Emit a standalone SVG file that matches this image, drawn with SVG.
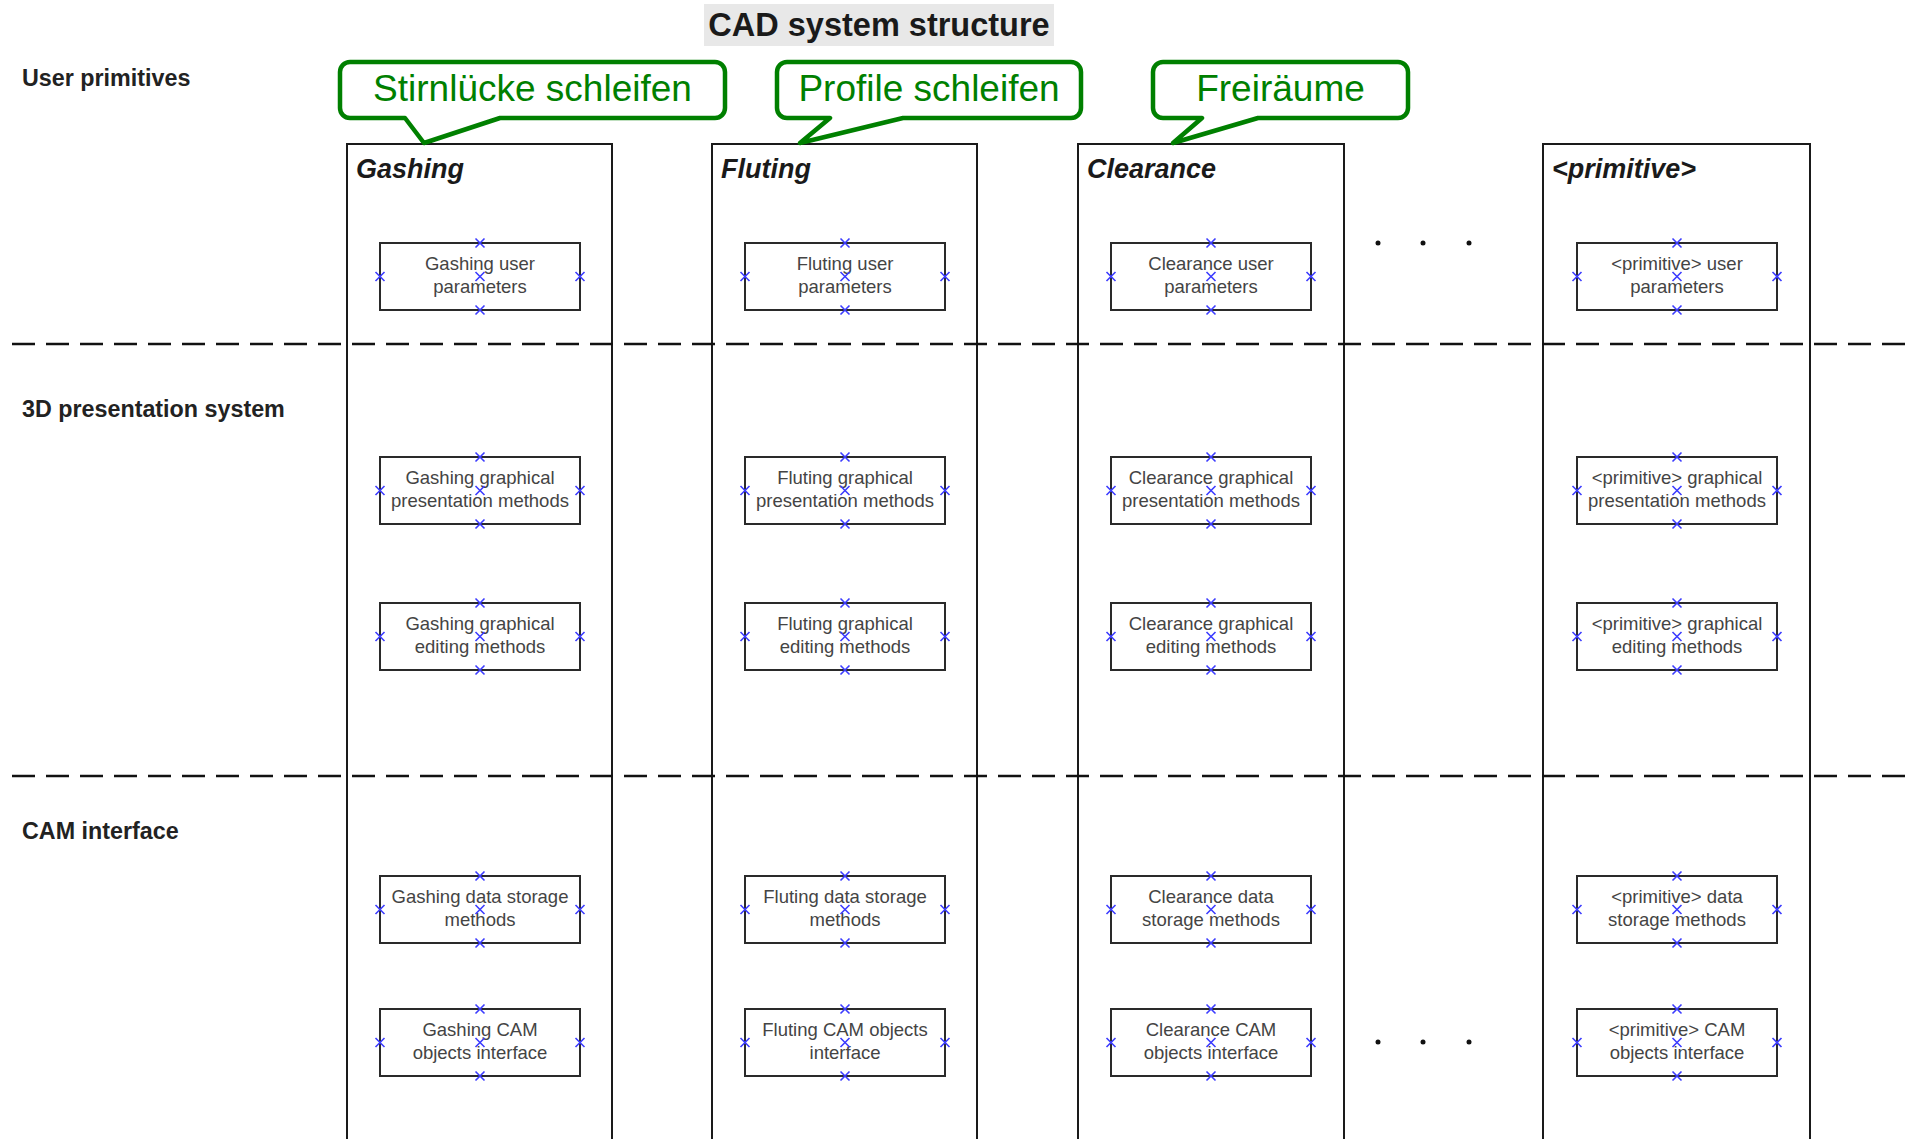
<svg xmlns="http://www.w3.org/2000/svg" xmlns:xlink="http://www.w3.org/1999/xlink" width="1916" height="1139" viewBox="0 0 1916 1139">
  <style>
    .title { font-family: "Liberation Sans", Arial, sans-serif; font-weight: bold; font-size: 32.5px; fill: #1a1a1a; }
    .layer { font-family: "Liberation Sans", Arial, sans-serif; font-weight: bold; font-size: 23.3px; fill: #222; }
    .lane-frame { fill: none; stroke: #1a1a1a; stroke-width: 2; }
    .lane-name { font-family: "Liberation Sans", Arial, sans-serif; font-weight: bold; font-style: italic; font-size: 27px; fill: #1a1a1a; }
    .sep { stroke: #111; stroke-width: 2.5; stroke-dasharray: 23 11; fill: none; }
    .box { fill: #fff; stroke: #2a2a2a; stroke-width: 2; }
    .lbl { font-family: "Liberation Sans", Arial, sans-serif; font-size: 18.5px; fill: #444; text-anchor: middle; }
    .pin { stroke: #3c3cff; stroke-width: 1.6; fill: none; }
    .callout { fill: #fff; stroke: #008000; stroke-width: 4.5; stroke-linejoin: round; }
    .callout-text { font-family: "Liberation Sans", Arial, sans-serif; font-size: 37px; fill: #008000; text-anchor: middle; }
    .dot { fill: #111; }
  </style>
  <defs>
    <path id="pin" class="pin" d="M-4.5,-4.5L4.5,4.5M-4.5,4.5L4.5,-4.5"/>
  </defs>

  <rect width="1916" height="1139" fill="#fff"/>

  <!-- heading -->
  <g id="title">
    <rect x="704" y="4" width="350" height="42" fill="#e8e8e8"/>
    <text class="title" x="879" y="36" text-anchor="middle">CAD system structure</text>
  </g>

  <!-- layer names -->
  <g id="layers">
    <text class="layer" x="22" y="86">User primitives</text>
    <text class="layer" x="22" y="417">3D presentation system</text>
    <text class="layer" x="22" y="839">CAM interface</text>
  </g>

  <!-- swimlanes -->
  <g id="lane-gashing">
    <path class="lane-frame" d="M347,1145V144H612V1145"/>
    <text class="lane-name" x="356" y="178">Gashing</text>
  </g>
  <g id="lane-fluting">
    <path class="lane-frame" d="M712,1145V144H977V1145"/>
    <text class="lane-name" x="721" y="178">Fluting</text>
  </g>
  <g id="lane-clearance">
    <path class="lane-frame" d="M1078,1145V144H1344V1145"/>
    <text class="lane-name" x="1087" y="178">Clearance</text>
  </g>
  <g id="lane-primitive">
    <path class="lane-frame" d="M1543,1145V144H1810V1145"/>
    <text class="lane-name" x="1552" y="178">&lt;primitive&gt;</text>
  </g>

  <!-- layer separators -->
  <g id="separators">
    <line class="sep" x1="12" y1="344" x2="1916" y2="344"/>
    <line class="sep" x1="12" y1="776" x2="1916" y2="776"/>
  </g>

  <!-- ellipsis between lanes -->
  <g id="ellipsis">
    <circle class="dot" cx="1378" cy="243" r="2.5"/>
    <circle class="dot" cx="1423" cy="243" r="2.5"/>
    <circle class="dot" cx="1469" cy="243" r="2.5"/>
    <circle class="dot" cx="1378" cy="1042" r="2.5"/>
    <circle class="dot" cx="1423" cy="1042" r="2.5"/>
    <circle class="dot" cx="1469" cy="1042" r="2.5"/>
  </g>

  <!-- Gashing nodes -->
  <g id="gashing-user-parameters">
    <rect class="box" x="380" y="243" width="200" height="67"/>
    <text class="lbl" x="480" y="270">Gashing user</text>
    <text class="lbl" x="480" y="292.5">parameters</text>
    <use href="#pin" x="480" y="243"/><use href="#pin" x="480" y="310"/><use href="#pin" x="380" y="276.5"/><use href="#pin" x="580" y="276.5"/><use href="#pin" x="480" y="276.5"/>
  </g>
  <g id="gashing-presentation">
    <rect class="box" x="380" y="457" width="200" height="67"/>
    <text class="lbl" x="480" y="484">Gashing graphical</text>
    <text class="lbl" x="480" y="506.5">presentation methods</text>
    <use href="#pin" x="480" y="457"/><use href="#pin" x="480" y="524"/><use href="#pin" x="380" y="490.5"/><use href="#pin" x="580" y="490.5"/><use href="#pin" x="480" y="490.5"/>
  </g>
  <g id="gashing-editing">
    <rect class="box" x="380" y="603" width="200" height="67"/>
    <text class="lbl" x="480" y="630">Gashing graphical</text>
    <text class="lbl" x="480" y="652.5">editing methods</text>
    <use href="#pin" x="480" y="603"/><use href="#pin" x="480" y="670"/><use href="#pin" x="380" y="636.5"/><use href="#pin" x="580" y="636.5"/><use href="#pin" x="480" y="636.5"/>
  </g>
  <g id="gashing-storage">
    <rect class="box" x="380" y="876" width="200" height="67"/>
    <text class="lbl" x="480" y="903">Gashing data storage</text>
    <text class="lbl" x="480" y="925.5">methods</text>
    <use href="#pin" x="480" y="876"/><use href="#pin" x="480" y="943"/><use href="#pin" x="380" y="909.5"/><use href="#pin" x="580" y="909.5"/><use href="#pin" x="480" y="909.5"/>
  </g>
  <g id="gashing-cam">
    <rect class="box" x="380" y="1009" width="200" height="67"/>
    <text class="lbl" x="480" y="1036">Gashing CAM</text>
    <text class="lbl" x="480" y="1058.5">objects interface</text>
    <use href="#pin" x="480" y="1009"/><use href="#pin" x="480" y="1076"/><use href="#pin" x="380" y="1042.5"/><use href="#pin" x="580" y="1042.5"/><use href="#pin" x="480" y="1042.5"/>
  </g>

  <!-- Fluting nodes -->
  <g id="fluting-user-parameters">
    <rect class="box" x="745" y="243" width="200" height="67"/>
    <text class="lbl" x="845" y="270">Fluting user</text>
    <text class="lbl" x="845" y="292.5">parameters</text>
    <use href="#pin" x="845" y="243"/><use href="#pin" x="845" y="310"/><use href="#pin" x="745" y="276.5"/><use href="#pin" x="945" y="276.5"/><use href="#pin" x="845" y="276.5"/>
  </g>
  <g id="fluting-presentation">
    <rect class="box" x="745" y="457" width="200" height="67"/>
    <text class="lbl" x="845" y="484">Fluting graphical</text>
    <text class="lbl" x="845" y="506.5">presentation methods</text>
    <use href="#pin" x="845" y="457"/><use href="#pin" x="845" y="524"/><use href="#pin" x="745" y="490.5"/><use href="#pin" x="945" y="490.5"/><use href="#pin" x="845" y="490.5"/>
  </g>
  <g id="fluting-editing">
    <rect class="box" x="745" y="603" width="200" height="67"/>
    <text class="lbl" x="845" y="630">Fluting graphical</text>
    <text class="lbl" x="845" y="652.5">editing methods</text>
    <use href="#pin" x="845" y="603"/><use href="#pin" x="845" y="670"/><use href="#pin" x="745" y="636.5"/><use href="#pin" x="945" y="636.5"/><use href="#pin" x="845" y="636.5"/>
  </g>
  <g id="fluting-storage">
    <rect class="box" x="745" y="876" width="200" height="67"/>
    <text class="lbl" x="845" y="903">Fluting data storage</text>
    <text class="lbl" x="845" y="925.5">methods</text>
    <use href="#pin" x="845" y="876"/><use href="#pin" x="845" y="943"/><use href="#pin" x="745" y="909.5"/><use href="#pin" x="945" y="909.5"/><use href="#pin" x="845" y="909.5"/>
  </g>
  <g id="fluting-cam">
    <rect class="box" x="745" y="1009" width="200" height="67"/>
    <text class="lbl" x="845" y="1036">Fluting CAM objects</text>
    <text class="lbl" x="845" y="1058.5">interface</text>
    <use href="#pin" x="845" y="1009"/><use href="#pin" x="845" y="1076"/><use href="#pin" x="745" y="1042.5"/><use href="#pin" x="945" y="1042.5"/><use href="#pin" x="845" y="1042.5"/>
  </g>

  <!-- Clearance nodes -->
  <g id="clearance-user-parameters">
    <rect class="box" x="1111" y="243" width="200" height="67"/>
    <text class="lbl" x="1211" y="270">Clearance user</text>
    <text class="lbl" x="1211" y="292.5">parameters</text>
    <use href="#pin" x="1211" y="243"/><use href="#pin" x="1211" y="310"/><use href="#pin" x="1111" y="276.5"/><use href="#pin" x="1311" y="276.5"/><use href="#pin" x="1211" y="276.5"/>
  </g>
  <g id="clearance-presentation">
    <rect class="box" x="1111" y="457" width="200" height="67"/>
    <text class="lbl" x="1211" y="484">Clearance graphical</text>
    <text class="lbl" x="1211" y="506.5">presentation methods</text>
    <use href="#pin" x="1211" y="457"/><use href="#pin" x="1211" y="524"/><use href="#pin" x="1111" y="490.5"/><use href="#pin" x="1311" y="490.5"/><use href="#pin" x="1211" y="490.5"/>
  </g>
  <g id="clearance-editing">
    <rect class="box" x="1111" y="603" width="200" height="67"/>
    <text class="lbl" x="1211" y="630">Clearance graphical</text>
    <text class="lbl" x="1211" y="652.5">editing methods</text>
    <use href="#pin" x="1211" y="603"/><use href="#pin" x="1211" y="670"/><use href="#pin" x="1111" y="636.5"/><use href="#pin" x="1311" y="636.5"/><use href="#pin" x="1211" y="636.5"/>
  </g>
  <g id="clearance-storage">
    <rect class="box" x="1111" y="876" width="200" height="67"/>
    <text class="lbl" x="1211" y="903">Clearance data</text>
    <text class="lbl" x="1211" y="925.5">storage methods</text>
    <use href="#pin" x="1211" y="876"/><use href="#pin" x="1211" y="943"/><use href="#pin" x="1111" y="909.5"/><use href="#pin" x="1311" y="909.5"/><use href="#pin" x="1211" y="909.5"/>
  </g>
  <g id="clearance-cam">
    <rect class="box" x="1111" y="1009" width="200" height="67"/>
    <text class="lbl" x="1211" y="1036">Clearance CAM</text>
    <text class="lbl" x="1211" y="1058.5">objects interface</text>
    <use href="#pin" x="1211" y="1009"/><use href="#pin" x="1211" y="1076"/><use href="#pin" x="1111" y="1042.5"/><use href="#pin" x="1311" y="1042.5"/><use href="#pin" x="1211" y="1042.5"/>
  </g>

  <!-- generic primitive nodes -->
  <g id="primitive-user-parameters">
    <rect class="box" x="1577" y="243" width="200" height="67"/>
    <text class="lbl" x="1677" y="270">&lt;primitive&gt; user</text>
    <text class="lbl" x="1677" y="292.5">parameters</text>
    <use href="#pin" x="1677" y="243"/><use href="#pin" x="1677" y="310"/><use href="#pin" x="1577" y="276.5"/><use href="#pin" x="1777" y="276.5"/><use href="#pin" x="1677" y="276.5"/>
  </g>
  <g id="primitive-presentation">
    <rect class="box" x="1577" y="457" width="200" height="67"/>
    <text class="lbl" x="1677" y="484">&lt;primitive&gt; graphical</text>
    <text class="lbl" x="1677" y="506.5">presentation methods</text>
    <use href="#pin" x="1677" y="457"/><use href="#pin" x="1677" y="524"/><use href="#pin" x="1577" y="490.5"/><use href="#pin" x="1777" y="490.5"/><use href="#pin" x="1677" y="490.5"/>
  </g>
  <g id="primitive-editing">
    <rect class="box" x="1577" y="603" width="200" height="67"/>
    <text class="lbl" x="1677" y="630">&lt;primitive&gt; graphical</text>
    <text class="lbl" x="1677" y="652.5">editing methods</text>
    <use href="#pin" x="1677" y="603"/><use href="#pin" x="1677" y="670"/><use href="#pin" x="1577" y="636.5"/><use href="#pin" x="1777" y="636.5"/><use href="#pin" x="1677" y="636.5"/>
  </g>
  <g id="primitive-storage">
    <rect class="box" x="1577" y="876" width="200" height="67"/>
    <text class="lbl" x="1677" y="903">&lt;primitive&gt; data</text>
    <text class="lbl" x="1677" y="925.5">storage methods</text>
    <use href="#pin" x="1677" y="876"/><use href="#pin" x="1677" y="943"/><use href="#pin" x="1577" y="909.5"/><use href="#pin" x="1777" y="909.5"/><use href="#pin" x="1677" y="909.5"/>
  </g>
  <g id="primitive-cam">
    <rect class="box" x="1577" y="1009" width="200" height="67"/>
    <text class="lbl" x="1677" y="1036">&lt;primitive&gt; CAM</text>
    <text class="lbl" x="1677" y="1058.5">objects interface</text>
    <use href="#pin" x="1677" y="1009"/><use href="#pin" x="1677" y="1076"/><use href="#pin" x="1577" y="1042.5"/><use href="#pin" x="1777" y="1042.5"/><use href="#pin" x="1677" y="1042.5"/>
  </g>

  <!-- speech-bubble annotations pointing at each lane -->
  <g id="note-stirnluecke">
    <path class="callout" d="M350,62H715A10,10 0 0 1 725,72V108A10,10 0 0 1 715,118H500L424,143L405,118H350A10,10 0 0 1 340,108V72A10,10 0 0 1 350,62Z"/>
    <text class="callout-text" x="532.5" y="101">Stirnlücke schleifen</text>
  </g>
  <g id="note-profile">
    <path class="callout" d="M787,62H1071A10,10 0 0 1 1081,72V108A10,10 0 0 1 1071,118H903L800,143L830,118H787A10,10 0 0 1 777,108V72A10,10 0 0 1 787,62Z"/>
    <text class="callout-text" x="929" y="101">Profile schleifen</text>
  </g>
  <g id="note-freiraeume">
    <path class="callout" d="M1163,62H1398A10,10 0 0 1 1408,72V108A10,10 0 0 1 1398,118H1258L1173,143L1202,118H1163A10,10 0 0 1 1153,108V72A10,10 0 0 1 1163,62Z"/>
    <text class="callout-text" x="1280.5" y="101">Freiräume</text>
  </g>
</svg>
